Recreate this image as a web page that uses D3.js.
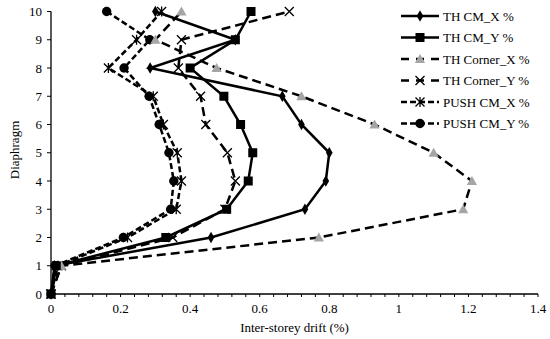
<!DOCTYPE html>
<html><head><meta charset="utf-8">
<script src="https://cdn.jsdelivr.net/npm/d3@7"></script>
<style>body{margin:0;background:#fff}svg{display:block}text{font-family:"Liberation Serif","Times New Roman",serif;fill:#000}</style>
</head><body><svg id="c" width="550" height="339"></svg>
<script>
const levels = [0,1,2,3,4,5,6,7,8,9,10];
const thCmX     = [0,0.01,0.46,0.73,0.79,0.80,0.72,0.665,0.285,0.53,0.30];
const thCmY     = [0,0.015,0.33,0.505,0.567,0.58,0.545,0.497,0.40,0.53,0.575];
const thCornerX = [0,0.03,0.77,1.185,1.21,1.10,0.93,0.72,0.476,0.30,0.375];
const thCornerY = [0,0.03,0.35,0.50,0.53,0.507,0.445,0.43,0.366,0.375,0.685];
const pushCmX   = [0,0.02,0.22,0.36,0.375,0.363,0.323,0.294,0.165,0.246,0.318];
const pushCmY   = [0,0.012,0.208,0.344,0.353,0.339,0.311,0.282,0.21,0.284,0.16];
const seriesNames = ["TH CM_X %","TH CM_Y %","TH Corner_X %","TH Corner_Y %","PUSH CM_X %","PUSH CM_Y %"];
const xTicks = [0,0.2,0.4,0.6,0.8,1,1.2,1.4];
const yTicks = [0,1,2,3,4,5,6,7,8,9,10];

const series = [
  {name:seriesNames[0], vals:thCmX, dash:null, marker:"diamond"},
  {name:seriesNames[1], vals:thCmY, dash:null, marker:"square"},
  {name:seriesNames[2], vals:thCornerX, dash:"9,5", marker:"triangle"},
  {name:seriesNames[3], vals:thCornerY, dash:"9,5", marker:"x"},
  {name:seriesNames[4], vals:pushCmX, dash:"6,3", marker:"star"},
  {name:seriesNames[5], vals:pushCmY, dash:"6,3", marker:"circle"}
];

const svg = d3.select("#c");
const x = d3.scaleLinear().domain([0,1.4]).range([51,538]);
const y = d3.scaleLinear().domain([0,10]).range([294,11.5]);

// axes
const gx = svg.append("g").attr("transform","translate(0,"+y(0)+")");
gx.append("line").attr("x1",x(0)).attr("x2",x(1.4)).attr("stroke","#000").attr("stroke-width",1.3);
const minor = d3.range(0,36).map(i=>i*0.04);
gx.selectAll(".mt").data(minor).join("line").attr("x1",d=>x(d)).attr("x2",d=>x(d)).attr("y1",0).attr("y2",3).attr("stroke","#000").attr("stroke-width",1);
gx.selectAll(".xl").data(xTicks).join("text").attr("x",d=>x(d)).attr("y",19).attr("text-anchor","middle").attr("font-size",13).text(d=>d3.format("~g")(d));
svg.append("text").attr("x",(x(0)+x(1.4))/2).attr("y",332).attr("text-anchor","middle").attr("font-size",13).text("Inter-storey drift (%)");

const gy = svg.append("g").attr("transform","translate("+x(0)+",0)");
gy.append("line").attr("y1",y(0)).attr("y2",y(10)).attr("stroke","#000").attr("stroke-width",1.3);
gy.selectAll(".yt").data(yTicks).join("line").attr("x1",-4).attr("x2",0).attr("y1",d=>y(d)).attr("y2",d=>y(d)).attr("stroke","#000").attr("stroke-width",1);
gy.selectAll(".yl").data(yTicks).join("text").attr("x",-9).attr("y",d=>y(d)+4.5).attr("text-anchor","end").attr("font-size",13).text(d=>d);
svg.append("text").attr("transform","translate(19,150) rotate(-90)").attr("text-anchor","middle").attr("font-size",13).text("Diaphragm");

function drawMarker(g, type, cx, cy) {
  if (type==="diamond") g.append("path").attr("d",d3.symbol(d3.symbolDiamond,38)()).attr("transform",`translate(${cx},${cy})`).attr("fill","#000");
  else if (type==="square") g.append("rect").attr("x",cx-4.5).attr("y",cy-4.5).attr("width",9).attr("height",9).attr("fill","#000");
  else if (type==="triangle") g.append("path").attr("d",d3.symbol(d3.symbolTriangle,45)()).attr("transform",`translate(${cx},${cy+1})`).attr("fill","#a5a5a5");
  else if (type==="x") g.append("path").attr("d",`M${cx-4.5},${cy-4.5}L${cx+4.5},${cy+4.5}M${cx-4.5},${cy+4.5}L${cx+4.5},${cy-4.5}`).attr("stroke","#000").attr("stroke-width",1.3);
  else if (type==="star") g.append("path").attr("d",`M${cx-4.5},${cy-4.5}L${cx+4.5},${cy+4.5}M${cx-4.5},${cy+4.5}L${cx+4.5},${cy-4.5}M${cx},${cy-5}L${cx},${cy+5}`).attr("stroke","#000").attr("stroke-width",1.3);
  else if (type==="circle") g.append("circle").attr("cx",cx).attr("cy",cy).attr("r",4.7).attr("fill","#000");
}

const line = d3.line().x(d=>x(d[0])).y(d=>y(d[1]));
const plot = svg.append("g");
series.forEach(s=>{
  plot.append("path").attr("d",line(levels.map((l,i)=>[s.vals[i],l]))).attr("fill","none").attr("stroke","#000").attr("stroke-width",2.5).attr("stroke-dasharray",s.dash);
});
const mk = svg.append("g");
series.slice().reverse().forEach(s=>{
  levels.forEach((l,i)=>drawMarker(mk, s.marker, x(s.vals[i]), y(l)));
});

// legend
const lg = svg.append("g");
series.forEach((s,i)=>{
  const ly = 16 + i*21.5;
  lg.append("line").attr("x1",401).attr("x2",439).attr("y1",ly).attr("y2",ly).attr("stroke","#000").attr("stroke-width",2.5).attr("stroke-dasharray",s.dash ? (s.dash==="9,5"?"8,7":"6,3") : null);
  drawMarker(lg, s.marker, 420, ly);
  lg.append("text").attr("x",443).attr("y",ly+4.5).attr("font-size",13).text(s.name);
});
</script></body></html>
